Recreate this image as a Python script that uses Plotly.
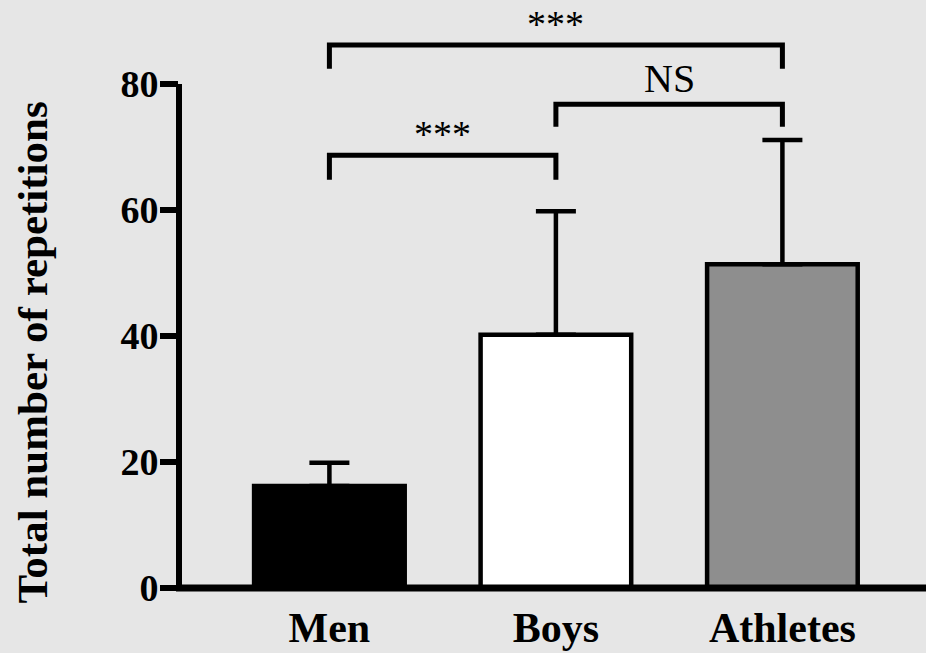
import plotly.graph_objects as go

# Group means and standard deviations
categories = ["Men", "Boys", "Athletes"]
means = [16.2, 40.2, 51.4]
sd_upper = [3.7, 19.6, 19.7]
bar_colors = ["#000000", "#ffffff", "#8e8e8e"]

# Y-axis ticks
y_ticks = [0, 20, 40, 60, 80]

# Pairwise comparisons: (group a, group b, label)
comparisons = [("Men", "Boys", "***"), ("Boys", "Athletes", "NS"), ("Men", "Athletes", "***")]
# bracket geometry in data units: (bar level, leg bottom)
bracket_levels = [(68.7, 64.8), (76.8, 73.2), (86.2, 82.4)]

BG = "#e6e6e6"
SERIF = "Liberation Serif"

fig = go.Figure()

fig.add_trace(go.Bar(
    x=categories,
    y=means,
    width=0.665,
    marker=dict(color=bar_colors, line=dict(color="black", width=4.5)),
    error_y=dict(type="data", symmetric=False, array=sd_upper,
                 arrayminus=[0] * len(sd_upper),
                 color="black", thickness=4.5, width=20),
    showlegend=False,
))

annotations = []
for (a, b, label), (top, leg) in zip(comparisons, bracket_levels):
    fig.add_trace(go.Scatter(
        x=[a, a, b, b], y=[leg, top, top, leg],
        mode="lines", line=dict(color="black", width=5),
        showlegend=False, hoverinfo="skip",
    ))
    ia, ib = categories.index(a), categories.index(b)
    is_ns = label == "NS"
    annotations.append(dict(
        x=(ia + ib) / 2, y=top, xref="x", yref="y",
        text=label, showarrow=False, yanchor="bottom",
        yshift=1 if is_ns else -2,
        font=dict(family=SERIF, size=40 if is_ns else 38, color="black"),
    ))

annotations.append(dict(
    x=-0.196, y=0.400, xref="paper", yref="paper",
    text="Total number of repetitions", textangle=-90, showarrow=False,
    xanchor="center", yanchor="middle",
    font=dict(family=SERIF, size=43, color="black", weight="bold"),
))

shapes = [
    # y axis spine, stops at the top tick
    dict(type="line", xref="paper", yref="y", x0=0, x1=0, y0=0, y1=80,
         line=dict(color="black", width=6)),
    # x axis spine
    dict(type="line", xref="paper", yref="paper", x0=-0.004, x1=1, y0=0, y1=0,
         line=dict(color="black", width=7)),
]

fig.update_layout(
    width=926, height=653,
    margin=dict(l=179, r=0, t=0, b=65),
    paper_bgcolor=BG, plot_bgcolor=BG,
    annotations=annotations,
    shapes=shapes,
    xaxis=dict(
        type="category", range=[-0.664, 2.634],
        showline=False, showgrid=False, zeroline=False, ticks="",
        ticklabelstandoff=11,
        tickfont=dict(family=SERIF, size=42, color="black", weight="bold"),
    ),
    yaxis=dict(
        range=[0, 93.33], tickvals=y_ticks,
        showline=False, showgrid=False, zeroline=False,
        ticks="outside", ticklen=18, tickwidth=6, tickcolor="black",
        ticklabelstandoff=-6,
        tickfont=dict(family=SERIF, size=38, color="black", weight="bold"),
    ),
)

fig.write_html("out.html")
